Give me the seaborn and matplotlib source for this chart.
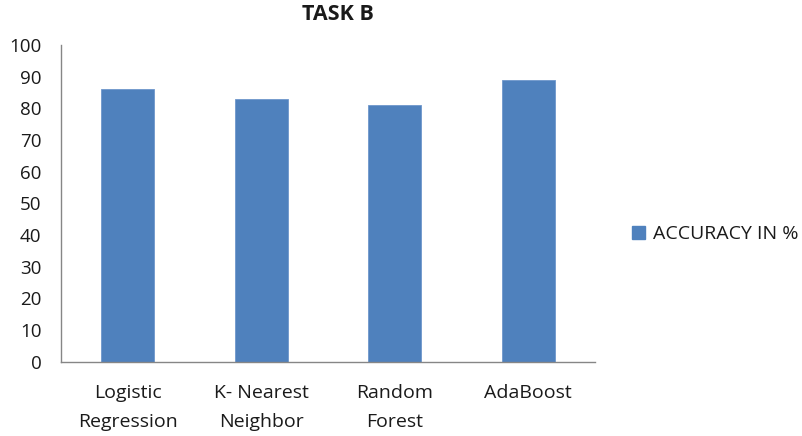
import matplotlib
matplotlib.use("Agg")
import matplotlib.pyplot as plt
import seaborn as sns
import pandas as pd
from matplotlib.patches import Patch

models = ["Logistic\nRegression", "K- Nearest\nNeighbor", "Random\nForest", "AdaBoost"]
accuracy = [86, 83, 81, 89]
series_name = "ACCURACY IN %"
y_ticks = list(range(0, 101, 10))

sns.set_theme(style="white")
plt.rcParams["font.family"] = ["Open Sans", "DejaVu Sans"]

bar_color = "#4F81BD"
axis_color = "#868686"
text_color = "#1a1a1a"

df = pd.DataFrame({"model": models, "accuracy": accuracy})

fig = plt.figure(figsize=(8.03, 4.36), dpi=100)
ax = fig.add_axes([0.076, 0.170, 0.665, 0.727])

sns.barplot(data=df, x="model", y="accuracy", color=bar_color, width=0.4,
            saturation=1, edgecolor="#6F97CC", linewidth=0.6, ax=ax)

ax.set_xlim(-0.5, len(models) - 0.5)
ax.set_ylim(0, 100)
ax.set_yticks(y_ticks)
ax.set_xlabel("")
ax.set_ylabel("")

# category labels centred, tick marks between categories
ax.set_xticks(range(len(models)))
ax.set_xticklabels(models, linespacing=1.75)
ax.set_xticks([i - 0.5 for i in range(len(models) + 1)], minor=True)
ax.tick_params(axis="x", which="major", length=0, pad=16, labelsize=14, colors=text_color)
ax.tick_params(axis="x", which="minor", length=6, width=1, color=axis_color, direction="out")
ax.tick_params(axis="y", which="major", length=7, width=1, color=axis_color, direction="out",
               pad=7, labelsize=13.5, labelcolor=text_color)

for side in ["top", "right"]:
    ax.spines[side].set_visible(False)
for side in ["left", "bottom"]:
    ax.spines[side].set_color(axis_color)
    ax.spines[side].set_linewidth(1)

fig.text(338 / 803, 1 - 14 / 436, "TASK B", ha="center", va="center",
         fontsize=15.5, fontweight="bold", color=text_color)

handle = Patch(facecolor=bar_color, edgecolor=bar_color)
fig.legend([handle], [series_name], loc="center left",
           bbox_to_anchor=(632 / 803, 1 - 234 / 436), frameon=False,
           borderaxespad=0, borderpad=0,
           handlelength=0.66, handleheight=0.66, handletextpad=0.4,
           prop={"size": 14, "family": ["Open Sans", "DejaVu Sans"]}, labelcolor=text_color)

fig.savefig("out.png", dpi=100)
